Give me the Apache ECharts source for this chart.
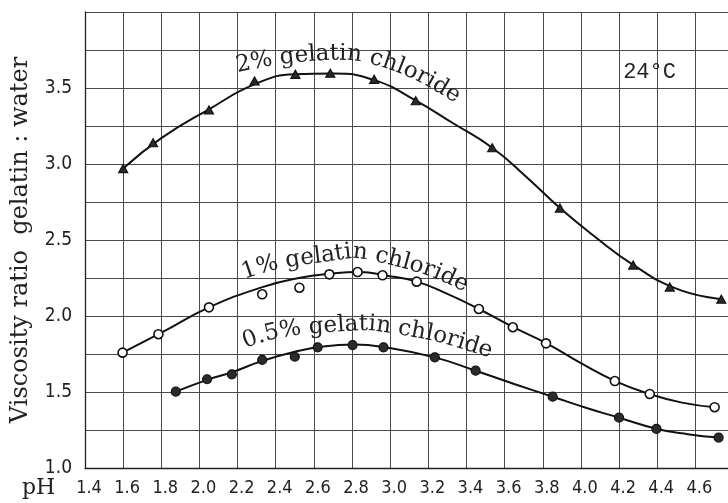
<!DOCTYPE html>
<html><head><meta charset="utf-8">
<script src="https://cdn.jsdelivr.net/npm/echarts@6/dist/echarts.min.js"></script>
<style>html,body{margin:0;padding:0;background:#fff}#c{width:728px;height:503px}</style>
</head><body><div id="c"></div>
<script>
// ---- data (pH, viscosity ratio) ----
const xLabelValues = [1.4,1.6,1.8,2.0,2.2,2.4,2.6,2.8,3.0,3.2,3.4,3.6,3.8,4.0,4.2,4.4,4.6];
const yLabelValues = [1.0,1.5,2.0,2.5,3.0,3.5];

// measured points
const pts2  = [[1.6,2.97],[1.757,3.14],[2.05,3.355],[2.289,3.546],[2.503,3.59],[2.686,3.597],[2.916,3.557],[3.134,3.416],[3.535,3.107],[3.89,2.71],[4.274,2.335],[4.466,2.19],[4.736,2.11]];
const pts1  = [[1.597,1.759],[1.785,1.88],[2.05,2.057],[2.329,2.143],[2.524,2.186],[2.681,2.274],[2.829,2.289],[2.96,2.268],[3.139,2.226],[3.465,2.046],[3.643,1.926],[3.817,1.82],[4.178,1.572],[4.361,1.487],[4.701,1.40]];
const pts05 = [[1.876,1.502],[2.04,1.584],[2.17,1.616],[2.329,1.711],[2.50,1.732],[2.62,1.794],[2.803,1.809],[2.965,1.794],[3.234,1.728],[3.448,1.64],[3.852,1.469],[4.2,1.331],[4.396,1.257],[4.722,1.2]];

// drawn smooth curves
const curve2  = [[1.6,2.97],[1.8,3.17],[2.05,3.36],[2.3,3.53],[2.5,3.59],[2.7,3.595],[2.92,3.55],[3.13,3.42],[3.33,3.268],[3.535,3.107],[3.71,2.92],[3.89,2.71],[4.08,2.515],[4.27,2.34],[4.5,2.18],[4.736,2.11]];
const curve1  = [[1.597,1.759],[1.8,1.89],[2.05,2.057],[2.33,2.19],[2.52,2.25],[2.7,2.28],[2.84,2.289],[2.98,2.265],[3.14,2.226],[3.3,2.145],[3.465,2.046],[3.64,1.93],[3.82,1.82],[4.0,1.69],[4.18,1.572],[4.36,1.487],[4.53,1.43],[4.701,1.40]];
const curve05 = [[1.876,1.502],[2.04,1.58],[2.17,1.63],[2.33,1.705],[2.5,1.765],[2.65,1.80],[2.81,1.812],[2.97,1.795],[3.234,1.728],[3.448,1.64],[3.65,1.553],[3.852,1.469],[4.03,1.395],[4.2,1.331],[4.4,1.257],[4.56,1.222],[4.722,1.2]];

// curve labels: text and baseline path (data coords)
const label2Text  = '2% gelatin chloride';
const label2Path  = [[2.2,3.599],[2.393,3.645],[2.576,3.671],[2.786,3.678],[2.942,3.638],[3.099,3.566],[3.23,3.48],[3.361,3.38]];
const label1Text  = '1% gelatin chloride';
const label1Path  = [[2.237,2.237],[2.367,2.289],[2.524,2.329],[2.681,2.355],[2.812,2.375],[2.916,2.355],[3.047,2.316],[3.204,2.257],[3.361,2.171]];
const label05Text = '0.5% gelatin chloride';
const label05Path = [[2.242,1.783],[2.367,1.836],[2.498,1.868],[2.681,1.888],[2.864,1.901],[2.969,1.888],[3.099,1.862],[3.256,1.822],[3.413,1.763]];
const tempText = '24°C';
const tempPos = [4.36, 3.605];
const xName = 'pH';
const yName = 'Viscosity ratio\u00a0\u00a0gelatin : water';

const chart = echarts.init(document.getElementById('c'), null, {renderer:'canvas'});
const near = (v, list) => list.some(a => Math.abs(a - v) < 1e-6);
const numFont = "'Liberation Sans Narrow','DejaVu Sans Condensed','Liberation Sans',sans-serif";
const serif = "'DejaVu Serif',serif";
const gridColor = '#4a4a4a';
const curveStyle = {color:'#111', width:2};

chart.setOption({
  backgroundColor:'#ffffff',
  animation:false,
  grid:{left:85, top:12, width:648.5, height:456, containLabel:false, outerBoundsMode:'none'},
  xAxis:{
    type:'value', min:1.4, max:4.8, interval:0.2,
    axisLine:{show:true, onZero:false, lineStyle:{color:'#222', width:1.3}},
    axisTick:{show:false},
    splitLine:{show:true, lineStyle:{color:gridColor, width:1}},
    axisLabel:{formatter:v => near(v, xLabelValues) ? v.toFixed(1) : '', color:'#222', fontFamily:numFont, fontSize:18, margin:11, padding:[0,0,0,8]}
  },
  yAxis:{
    type:'value', min:1.0, max:4.0, interval:0.25,
    name:yName, nameLocation:'middle', nameGap:52,
    nameTextStyle:{fontFamily:serif, fontSize:24, color:'#222'},
    axisLine:{show:true, onZero:false, lineStyle:{color:'#222', width:1.3}},
    axisTick:{show:false},
    splitLine:{show:true, lineStyle:{color:gridColor, width:1}},
    axisLabel:{formatter:v => near(v, yLabelValues) ? v.toFixed(1) : '', color:'#222', fontFamily:numFont, fontSize:19, margin:13}
  },
  series:[
    {type:'line', data:curve2, smooth:0.5, showSymbol:false, silent:true, lineStyle:curveStyle, z:2},
    {type:'line', data:curve1, smooth:0.5, showSymbol:false, silent:true, lineStyle:curveStyle, z:2},
    {type:'line', data:curve05, smooth:0.5, showSymbol:false, silent:true, lineStyle:curveStyle, z:2},
    {type:'scatter', data:pts2, symbol:'triangle', symbolSize:[9,8], itemStyle:{color:'#2a2a2a', borderColor:'#111', borderWidth:1.2, opacity:1}, z:3},
    {type:'scatter', data:pts1, symbol:'circle', symbolSize:9, itemStyle:{color:'#ffffff', borderColor:'#111', borderWidth:1.6, opacity:1}, z:3},
    {type:'scatter', data:pts05, symbol:'circle', symbolSize:9, itemStyle:{color:'#2a2a2a', borderColor:'#111', borderWidth:1.2, opacity:1}, z:3}
  ]
});

// ---- curved labels placed along paths ----
const mctx = document.createElement('canvas').getContext('2d');
function cr(p0,p1,p2,p3,t){
  const t2=t*t, t3=t2*t;
  const f = (a,b,c,d) => 0.5*((2*b)+(-a+c)*t+(2*a-5*b+4*c-d)*t2+(-a+3*b-3*c+d)*t3);
  return [f(p0[0],p1[0],p2[0],p3[0]), f(p0[1],p1[1],p2[1],p3[1])];
}
function curvedText(str, path, size, color){
  const px = path.map(p => chart.convertToPixel({gridIndex:0}, p));
  const n = px.length, dense = [];
  for (let i=0;i<n-1;i++){
    const p0=px[Math.max(i-1,0)], p1=px[i], p2=px[i+1], p3=px[Math.min(i+2,n-1)];
    for (let s=0;s<20;s++) dense.push(cr(p0,p1,p2,p3,s/20));
  }
  dense.push(px[n-1]);
  const cum=[0];
  for (let i=1;i<dense.length;i++) cum.push(cum[i-1]+Math.hypot(dense[i][0]-dense[i-1][0], dense[i][1]-dense[i-1][1]));
  const font = size+'px '+serif;
  mctx.font = font;
  const els = [];
  let s = 0;
  for (const ch of str){
    const w = mctx.measureText(ch).width;
    const m = s + w/2;
    let k = 1;
    while (k < cum.length-1 && cum[k] < m) k++;
    const a = dense[k-1], b = dense[k];
    const seg = (cum[k]-cum[k-1]) || 1;
    const f = (m-cum[k-1])/seg;
    const x = a[0]+(b[0]-a[0])*f, y = a[1]+(b[1]-a[1])*f;
    const tx = (b[0]-a[0])/seg, ty = (b[1]-a[1])/seg;
    const off = size*0.3;
    if (ch !== ' ') els.push({type:'text', x:x+ty*off, y:y-tx*off, rotation:-Math.atan2(ty,tx), silent:true, z:10,
      style:{text:ch, font:font, fill:color, align:'center', verticalAlign:'middle', textAlign:'center', textVerticalAlign:'middle'}});
    s += w;
  }
  return els;
}
const origin = chart.convertToPixel({gridIndex:0}, [1.4, 1.0]);
const tp = chart.convertToPixel({gridIndex:0}, tempPos);
const elements = [].concat(
  curvedText(label2Text, label2Path, 23, '#222'),
  curvedText(label1Text, label1Path, 23, '#222'),
  curvedText(label05Text, label05Path, 23, '#222'),
  [
    {type:'text', x:tp[0], y:tp[1], silent:true, z:10, style:{text:tempText, font:"22px 'Liberation Mono','DejaVu Sans Mono',monospace", fill:'#222', align:'center', verticalAlign:'middle', textAlign:'center', textVerticalAlign:'middle'}},
    {type:'text', x:origin[0]-63, y:origin[1]+20, silent:true, z:10, style:{text:xName, font:'22px '+serif, fill:'#222', align:'left', verticalAlign:'middle', textAlign:'left', textVerticalAlign:'middle'}}
  ]
);
chart.setOption({graphic:{elements:elements}});
</script>
</body></html>
